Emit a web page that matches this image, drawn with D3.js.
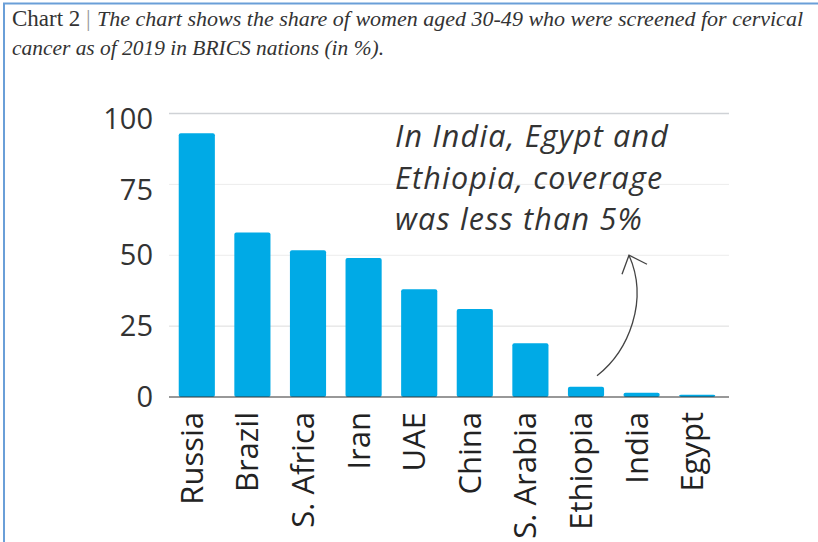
<!DOCTYPE html>
<html>
<head>
<meta charset="utf-8">
<script src="https://cdn.jsdelivr.net/npm/d3@7"></script>
<style>
  body { margin: 0; background: #fff; }
  svg { display: block; }
</style>
</head>
<body>
<div id="chart"></div>
<script>
var countries = ["Russia", "Brazil", "S. Africa", "Iran", "UAE", "China", "S. Arabia", "Ethiopia", "India", "Egypt"];
var screened = [93, 58, 51.8, 49, 38, 31, 19, 3.6, 1.5, 0.8];
var yTicks = [0, 25, 50, 75, 100];
var titleLines = ["The chart shows the share of women aged 30-49 who were screened for cervical",
                  "cancer as of 2019 in BRICS nations (in %)."];
var noteLines = ["In India, Egypt and", "Ethiopia, coverage", "was less than 5%"];

var W = 818, H = 542;

var svg = d3.select("#chart").append("svg")
    .attr("width", W)
    .attr("height", H);

// frame
svg.append("path")
    .attr("d", "M4,542 L4,3.5 L818,3.5")
    .attr("fill", "none")
    .attr("stroke", "#6a9fd8")
    .attr("stroke-width", 2);

// title
svg.append("text")
    .attr("x", 12)
    .attr("y", 26)
    .attr("font-family", "Liberation Serif, serif")
    .attr("font-size", 23)
    .attr("fill", "#333")
    .text("Chart 2");
svg.append("text")
    .attr("x", 86)
    .attr("y", 26)
    .attr("font-family", "Liberation Serif, serif")
    .attr("font-size", 23)
    .attr("fill", "#999")
    .text("|");
svg.append("text")
    .attr("x", 97)
    .attr("y", 26)
    .attr("font-family", "Liberation Serif, serif")
    .attr("font-size", 22)
    .attr("font-style", "italic")
    .attr("fill", "#333")
    .attr("textLength", 706)
    .attr("lengthAdjust", "spacingAndGlyphs")
    .text(titleLines[0]);

svg.append("text")
    .attr("x", 12)
    .attr("y", 55)
    .attr("font-family", "Liberation Serif, serif")
    .attr("font-size", 22)
    .attr("font-style", "italic")
    .attr("fill", "#333")
    .attr("textLength", 372)
    .attr("lengthAdjust", "spacingAndGlyphs")
    .text(titleLines[1]);

var x = d3.scaleBand()
    .domain(countries)
    .range([169, 725])
    .paddingInner(0.35)
    .paddingOuter(0.175);

var y = d3.scaleLinear()
    .domain([0, 100])
    .range([397, 113.5]);

// gridlines
svg.append("g")
    .selectAll("line")
    .data(yTicks.filter(function(d){ return d > 0; }))
    .enter()
    .append("line")
    .attr("x1", 169)
    .attr("x2", 729)
    .attr("y1", function(d){ return y(d); })
    .attr("y2", function(d){ return y(d); })
    .attr("stroke", function(d){ return d == 100 ? "#cfd2d6" : (d == 25 ? "#dcdcdc" : "#ececec"); })
    .attr("stroke-width", function(d){ return d == 100 ? 1.5 : 1; });

// y labels
svg.append("g")
    .selectAll("text")
    .data(yTicks)
    .enter()
    .append("text")
    .attr("x", 153)
    .attr("y", function(d){ return y(d); })
    .attr("dy", function(d){ return d >= 75 ? "0.55em" : "0.35em"; })
    .attr("text-anchor", "end")
    .attr("font-family", "Open Sans, sans-serif")
    .attr("font-size", 29)
    .attr("fill", "#333")
    .text(function(d){ return d; });

// bars
svg.append("g")
    .selectAll("rect")
    .data(screened)
    .enter()
    .append("rect")
    .attr("x", function(d, i){ return x(countries[i]); })
    .attr("y", function(d){ return y(d); })
    .attr("width", x.bandwidth())
    .attr("height", function(d){ return y(0) - y(d); })
    .attr("rx", 2)
    .attr("fill", "#00aae6");

// baseline
svg.append("line")
    .attr("x1", 169)
    .attr("x2", 729)
    .attr("y1", y(0))
    .attr("y2", y(0))
    .attr("stroke", "#333")
    .attr("stroke-width", 1.2);

// x labels
svg.append("g")
    .selectAll("text")
    .data(countries)
    .enter()
    .append("text")
    .attr("transform", function(d){
        return "translate(" + (x(d) + x.bandwidth() / 2 + 6) + "," + (y(0) + 15) + ") rotate(-90)";
    })
    .attr("text-anchor", "end")
    .attr("font-family", "Open Sans, sans-serif")
    .attr("font-size", 31)
    .attr("fill", "#222")
    .text(function(d){ return d; });

// annotation
svg.append("g")
    .selectAll("text")
    .data(noteLines)
    .enter()
    .append("text")
    .attr("x", 395)
    .attr("y", function(d, i){ return 147 + i * 41.5; })
    .attr("font-family", "Open Sans, sans-serif")
    .attr("font-style", "italic")
    .attr("font-size", 30.5)
    .attr("letter-spacing", 1.2)
    .attr("fill", "#333")
    .text(function(d){ return d; });

// arrow from Ethiopia up to the note
var ax = x("Ethiopia") + x.bandwidth() / 2;
var sx = ax + 11, sy = y(7.5);
var tx = ax + 43, ty = y(50);
svg.append("path")
    .attr("d", "M" + sx + "," + sy + " C" + (sx + 32) + "," + (sy - 25) + " " + (tx + 20) + "," + (ty + 45) + " " + tx + "," + ty)
    .attr("fill", "none")
    .attr("stroke", "#444")
    .attr("stroke-width", 1.3);
svg.append("path")
    .attr("d", "M" + (tx - 7) + "," + (ty + 19) + " L" + tx + "," + ty + " L" + (tx + 18) + "," + (ty + 9))
    .attr("fill", "none")
    .attr("stroke", "#444")
    .attr("stroke-width", 1.3);
</script>
</body>
</html>
